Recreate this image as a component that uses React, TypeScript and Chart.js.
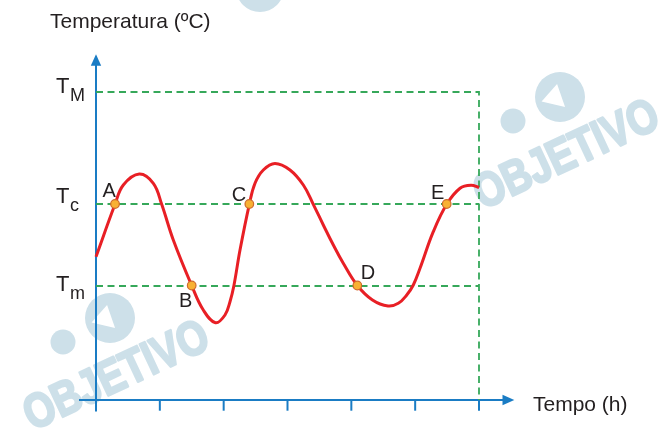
import React, { useEffect, useRef } from 'react';
import { Chart, registerables } from 'chart.js';

Chart.register(...registerables);

// ---- data ----
const timeTicks = [0, 1, 2, 3, 4, 5, 6];
const curveX = [0, 0.298, 0.428, 0.678, 0.898, 1.029, 1.211, 1.499, 1.681, 1.872, 2.021, 2.099, 2.16, 2.256, 2.402, 2.491, 2.621, 2.804, 3.039, 3.248, 3.404, 3.561, 3.718, 3.874, 4.094, 4.331, 4.575, 4.736, 4.868, 4.971, 5.076, 5.284, 5.494, 5.703, 5.875, 6.0];
const curveY = [14.33, 19.57, 21.5, 22.6, 21.67, 19.57, 16.0, 11.45, 9.0, 7.73, 8.5, 9.83, 11.43, 15.0, 19.57, 21.67, 23.0, 23.65, 23.0, 21.5, 19.57, 17.5, 15.5, 13.67, 11.45, 10.0, 9.4, 9.67, 10.5, 11.5, 13.17, 16.83, 19.57, 21.17, 21.47, 21.25];
const levelSubscripts = ['M', 'c', 'm'];
const levelValues = [30.8, 19.6, 11.4];
const pointLabels = ['A', 'B', 'C', 'D', 'E'];
const pointX = [0.298, 1.499, 2.402, 4.094, 5.494];
const pointY = [19.6, 11.45, 19.6, 11.45, 19.6];
const yTitle = 'Temperatura (ºC)';
const xTitle = 'Tempo (h)';
const watermarkText = 'OBJETIVO';

// ---- styles ----
const BLUE = '#1a7cc4';
const GREEN = '#36a85a';
const RED = '#e81f25';
const TEXT = '#231f20';
const WM = '#cde0e9';
const FONT = '"Liberation Sans", Arial, Helvetica, sans-serif';
// label offsets (px) relative to point
const labelOffsets = [[-12.5, -7.3], [-12.7, 21.8], [-17.6, -3], [3.4, -7], [-15.7, -4.7]];
// level label offsets: [T baseline, subscript baseline]
const levelOffsets = [[1, 8.7], [-1, 7.4], [5, 12.6]];

const watermarkPlugin = {
  id: 'wm',
  beforeDraw(chart: any) {
    const ctx = chart.ctx;
    ctx.save();
    ctx.fillStyle = WM;
    ctx.strokeStyle = WM;
    const drawMark = (cx: number, cy: number) => {
      ctx.save();
      ctx.translate(cx, cy);
      ctx.rotate(-25 * Math.PI / 180);
      ctx.scale(0.82, 1);
      ctx.font = `bold 48px ${FONT}`;
      ctx.textAlign = 'center';
      ctx.textBaseline = 'middle';
      ctx.lineWidth = 2.5;
      ctx.lineJoin = 'round';
      ctx.fillText(watermarkText, 0, 0);
      ctx.strokeText(watermarkText, 0, 0);
      ctx.restore();
      // logo
      ctx.beginPath();
      ctx.arc(cx - 7, cy - 59, 25, 0, Math.PI * 2);
      ctx.fill();
      ctx.beginPath();
      ctx.arc(cx - 54, cy - 35, 12.5, 0, Math.PI * 2);
      ctx.fill();
      ctx.save();
      ctx.fillStyle = '#ffffff';
      ctx.translate(cx - 12, cy - 55);
      ctx.rotate(-0.5);
      ctx.beginPath();
      ctx.moveTo(-12, -6);
      ctx.lineTo(10, -14);
      ctx.lineTo(6, 10);
      ctx.closePath();
      ctx.fill();
      ctx.restore();
    };
    drawMark(567, 156);
    drawMark(117, 377);
    ctx.beginPath();
    ctx.arc(260, -12, 24, 0, Math.PI * 2);
    ctx.fill();
    ctx.restore();
  },
};

const axesPlugin = {
  id: 'axes',
  beforeDatasetsDraw(chart: any) {
    const ctx = chart.ctx;
    const xs = chart.scales.x;
    const ys = chart.scales.y;
    const x0 = xs.getPixelForValue(timeTicks[0]);
    const xEnd = xs.getPixelForValue(timeTicks[timeTicks.length - 1]);
    const y0 = ys.getPixelForValue(0);
    const yTop = ys.getPixelForValue(levelValues[0]);
    ctx.save();
    ctx.strokeStyle = BLUE;
    ctx.fillStyle = BLUE;
    ctx.lineWidth = 2;
    ctx.beginPath();
    ctx.moveTo(x0 - 17, y0);
    ctx.lineTo(xEnd + 26, y0);
    ctx.stroke();
    ctx.beginPath();
    ctx.moveTo(x0, y0 + 11.5);
    ctx.lineTo(x0, yTop - 28);
    ctx.stroke();
    timeTicks.forEach((t) => {
      const px = xs.getPixelForValue(t);
      ctx.beginPath();
      ctx.moveTo(px, y0);
      ctx.lineTo(px, y0 + 10.7);
      ctx.stroke();
    });
    ctx.beginPath();
    ctx.moveTo(xEnd + 35.3, y0);
    ctx.lineTo(xEnd + 23.5, y0 - 5.3);
    ctx.lineTo(xEnd + 23.5, y0 + 5.3);
    ctx.closePath();
    ctx.fill();
    ctx.beginPath();
    ctx.moveTo(x0, yTop - 37.7);
    ctx.lineTo(x0 - 5.2, yTop - 26.3);
    ctx.lineTo(x0 + 5.2, yTop - 26.3);
    ctx.closePath();
    ctx.fill();
    ctx.restore();
  },
  afterDatasetsDraw(chart: any) {
    const ctx = chart.ctx;
    const xs = chart.scales.x;
    const ys = chart.scales.y;
    ctx.save();
    ctx.fillStyle = TEXT;
    ctx.textBaseline = 'alphabetic';
    ctx.textAlign = 'left';
    ctx.font = `21px ${FONT}`;
    ctx.fillText(yTitle, 50, 28.3);
    ctx.fillText(xTitle, 533, 410.7);
    levelValues.forEach((v, i) => {
      const py = ys.getPixelForValue(v);
      ctx.font = `22px ${FONT}`;
      ctx.fillText('T', 56, py + levelOffsets[i][0]);
      ctx.font = `18px ${FONT}`;
      ctx.fillText(levelSubscripts[i], 70, py + levelOffsets[i][1]);
    });
    ctx.font = `20px ${FONT}`;
    pointLabels.forEach((lab, i) => {
      const px = xs.getPixelForValue(pointX[i]);
      const py = ys.getPixelForValue(pointY[i]);
      ctx.fillText(lab, px + labelOffsets[i][0], py + labelOffsets[i][1]);
    });
    ctx.restore();
  },
};

export default function App() {
  const ref = useRef<HTMLCanvasElement>(null);
  useEffect(() => {
    if (!ref.current) return;
    const last = timeTicks[timeTicks.length - 1];
    const dashed = {
      borderColor: GREEN,
      borderWidth: 1.8,
      borderDash: [7, 4.5],
      pointRadius: 0,
      tension: 0,
      fill: false,
      clip: false as any,
      order: 3,
    };
    const chart = new Chart(ref.current, {
      type: 'line',
      data: {
        datasets: [
          {
            data: pointX.map((x, i) => ({ x, y: pointY[i] })),
            showLine: false,
            pointRadius: 4.3,
            pointBackgroundColor: '#f8b133',
            pointBorderColor: '#cf6b2b',
            pointBorderWidth: 1.2,
            clip: false as any,
            order: 0,
          },
          {
            data: curveX.map((x, i) => ({ x, y: curveY[i] })),
            borderColor: RED,
            borderWidth: 3,
            pointRadius: 0,
            tension: 0.4,
            fill: false,
            clip: false as any,
            order: 1,
          },
          { ...dashed, data: [{ x: 0, y: levelValues[0] }, { x: last, y: levelValues[0] }, { x: last, y: 0 }] },
          { ...dashed, data: [{ x: 0, y: levelValues[1] }, { x: last, y: levelValues[1] }] },
          { ...dashed, data: [{ x: 0, y: levelValues[2] }, { x: last, y: levelValues[2] }] },
        ] as any,
      },
      options: {
        animation: false,
        responsive: true,
        maintainAspectRatio: false,
        layout: { padding: { left: 96, right: 183, top: 92, bottom: 31 } },
        scales: {
          x: { type: 'linear', min: 0, max: last, display: false },
          y: { type: 'linear', min: 0, max: levelValues[0], display: false },
        },
        plugins: { legend: { display: false }, tooltip: { enabled: false } },
        events: [],
      },
      plugins: [watermarkPlugin, axesPlugin],
    });
    return () => chart.destroy();
  }, []);
  return (
    <div style={{ position: 'fixed', left: 0, top: 0, width: 662, height: 431, background: '#fff' }}>
      <canvas ref={ref} />
    </div>
  );
}
